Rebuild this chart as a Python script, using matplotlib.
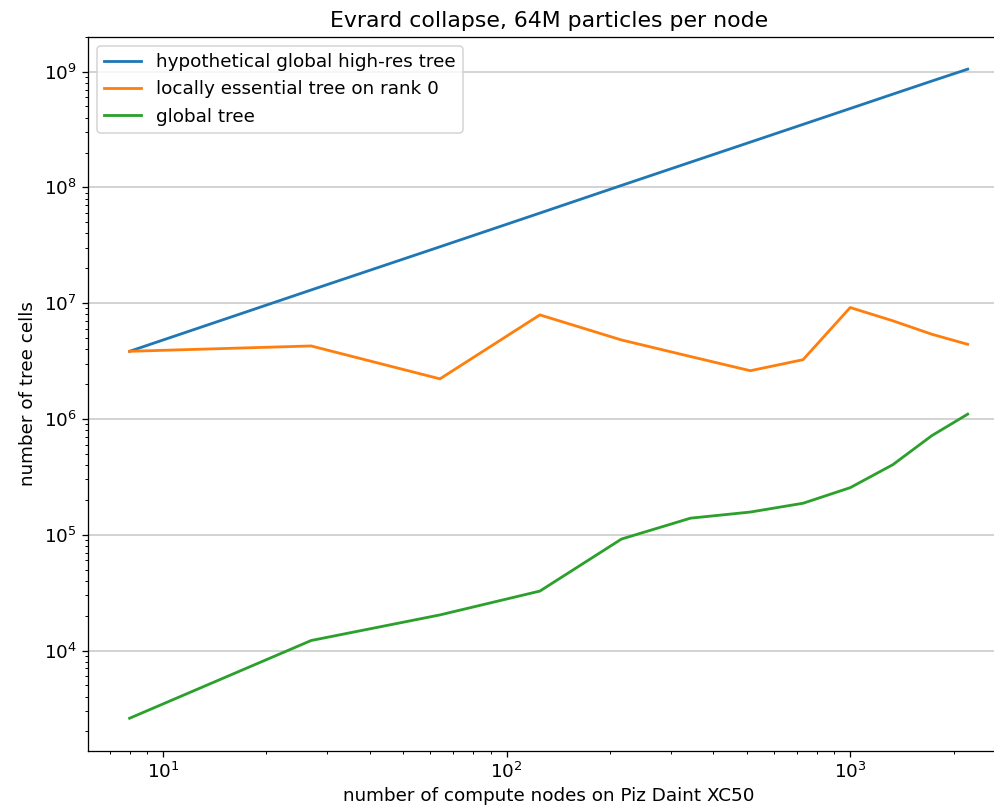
import numpy as np
import matplotlib
matplotlib.use("Agg")
import matplotlib.pyplot as plt

# compute nodes (cubes) and tree cell counts
nodes = [8, 27, 64, 125, 216, 343, 512, 729, 1000, 1331, 1728, 2197]
hypothetical = [3.84e6, 1.30e7, 3.07e7, 6.0e7, 1.04e8, 1.65e8, 2.46e8, 3.50e8,
                4.80e8, 6.39e8, 8.29e8, 1.05e9]
let_rank0 = [3.84e6, 4.27e6, 2.22e6, 7.92e6, 4.81e6, 3.46e6, 2.61e6, 3.25e6,
             9.17e6, 7.04e6, 5.39e6, 4.41e6]
global_tree = [2.60e3, 1.22e4, 2.03e4, 3.26e4, 9.18e4, 1.39e5, 1.57e5, 1.87e5,
               2.55e5, 4.03e5, 7.18e5, 1.10e6]

plt.rcParams["font.size"] = 11.5
plt.rcParams["lines.linewidth"] = 1.75

dpi = 115
fig = plt.figure(figsize=(994 / dpi, 810 / dpi), dpi=dpi)
# axes run past the right edge (the reference is a cropped screenshot)
ax = fig.add_axes([87.7 / 994, 1 - 750.7 / 810, (1009.6 - 87.7) / 994, (750.7 - 36.7) / 810])

ax.plot(nodes, hypothetical, label="hypothetical global high-res tree")
ax.plot(nodes, let_rank0, label="locally essential tree on rank 0")
ax.plot(nodes, global_tree, label="global tree")
ax.set_xscale("log")
ax.set_yscale("log")

ax.set_title("Evrard collapse, 64M particles per node")
ax.set_ylabel("number of tree cells")
ax.set_xlabel("number of compute nodes on Piz Daint XC50", labelpad=3)
ax.legend(loc="upper left")
ax.yaxis.grid(color="#d3d3d3", linewidth=1.2)

fig.savefig("out.png", dpi=dpi)
